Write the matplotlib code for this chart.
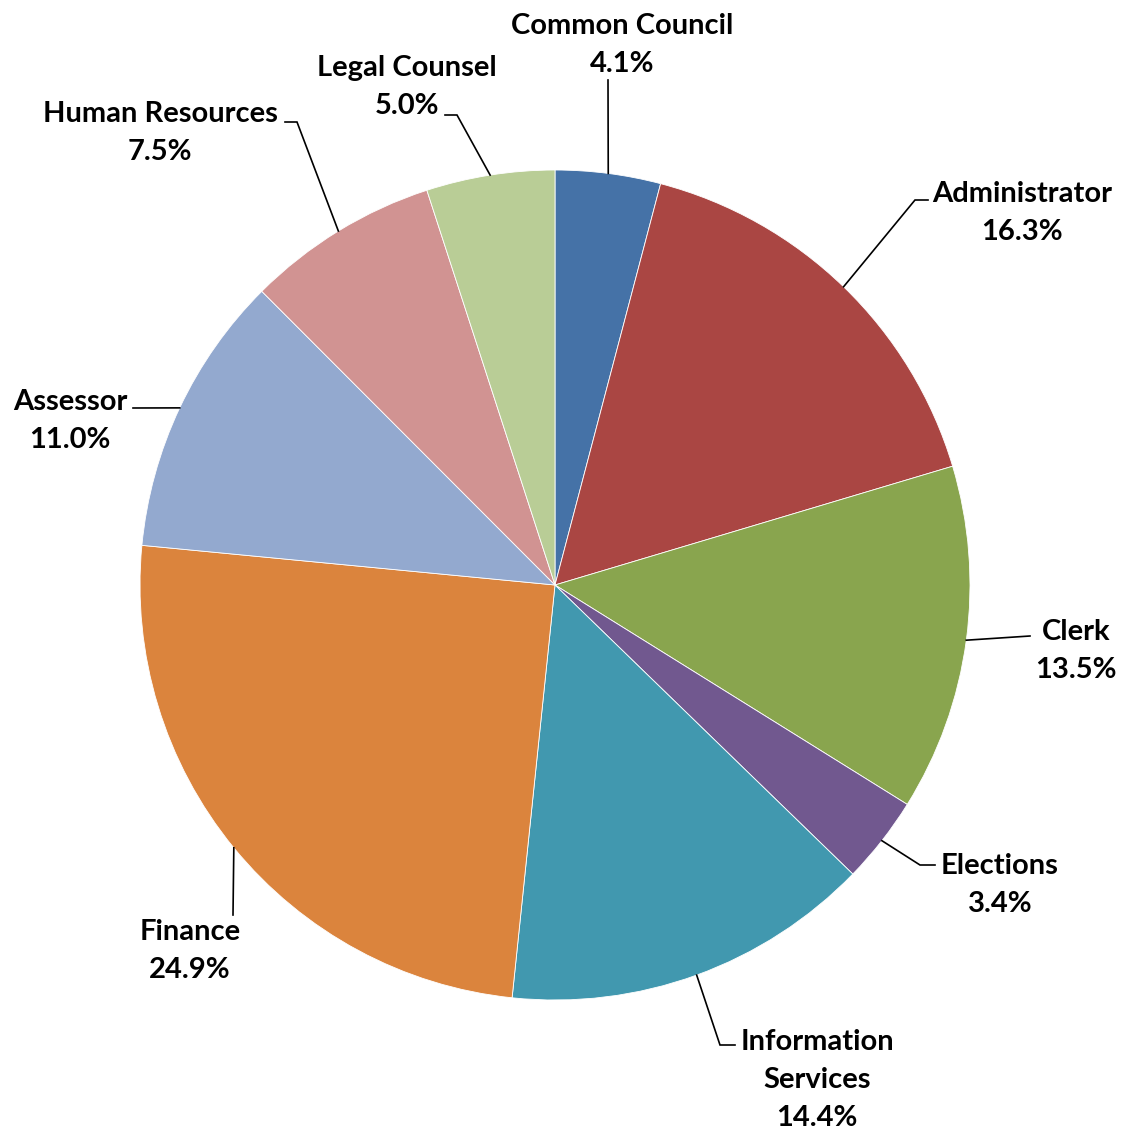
import matplotlib
matplotlib.use("Agg")
import matplotlib.pyplot as plt
import numpy as np

categories = ["Common Council", "Administrator", "Clerk", "Elections",
              "Information\nServices", "Finance", "Assessor",
              "Human Resources", "Legal Counsel"]
values = [4.1, 16.3, 13.5, 3.4, 14.4, 24.9, 11.0, 7.5, 5.0]
colors = ["#4572A7", "#AA4643", "#89A54E", "#71588F", "#4198AF",
          "#DB843D", "#93A9CF", "#D19392", "#B9CD96"]

# label layout in image pixel coords: text centre, elbow, line end
text_pos = [(622, 45), (1022, 213), (1076, 651), (1000, 885), (817, 1080),
            (190, 951), (70, 421), (160, 133), (407, 87)]
elbows = [(608, 80), (915, 200), (1030, 636), (920, 865), (720, 1045),
          (233, 915), (133, 408), (297, 122), (457, 115)]
ends = [(608, 80), (928, 200), (1030, 636), (935, 865), (735, 1045),
        (233, 915), (133, 408), (285, 122), (445, 115)]

W, H = 1131, 1130
CX, CY, R = 555, 585, 415

def tr(p):
    return (p[0], H - p[1])

fig = plt.figure(figsize=(W / 100, H / 100), dpi=100)
ax = fig.add_axes([0, 0, 1, 1])
ax.set_xlim(0, W)
ax.set_ylim(0, H)
ax.set_aspect("equal")
ax.axis("off")

wedges, _ = ax.pie(values, colors=colors, startangle=90, counterclock=False,
                   center=tr((CX, CY)), radius=R,
                   wedgeprops=dict(edgecolor="white", linewidth=0.6))
ax.set_xlim(0, W)
ax.set_ylim(0, H)

total = sum(values)
for cat, v, w, tp, el, en in zip(categories, values, wedges, text_pos, elbows, ends):
    mid = np.deg2rad((w.theta1 + w.theta2) / 2)
    ex = CX + R * np.cos(mid)
    ey = CY - R * np.sin(mid)
    xs = [ex, el[0], en[0]]
    ys = [H - ey, H - el[1], H - en[1]]
    ax.plot(xs, ys, color="black", lw=1.2, solid_joinstyle="miter")
    ax.text(*tr(tp), f"{cat}\n{v / total * 100:.1f}%", ha="center", va="center",
            fontsize=21, fontweight="bold", family="Lato", linespacing=1.55)

fig.savefig("out.png", dpi=100, facecolor="white")
